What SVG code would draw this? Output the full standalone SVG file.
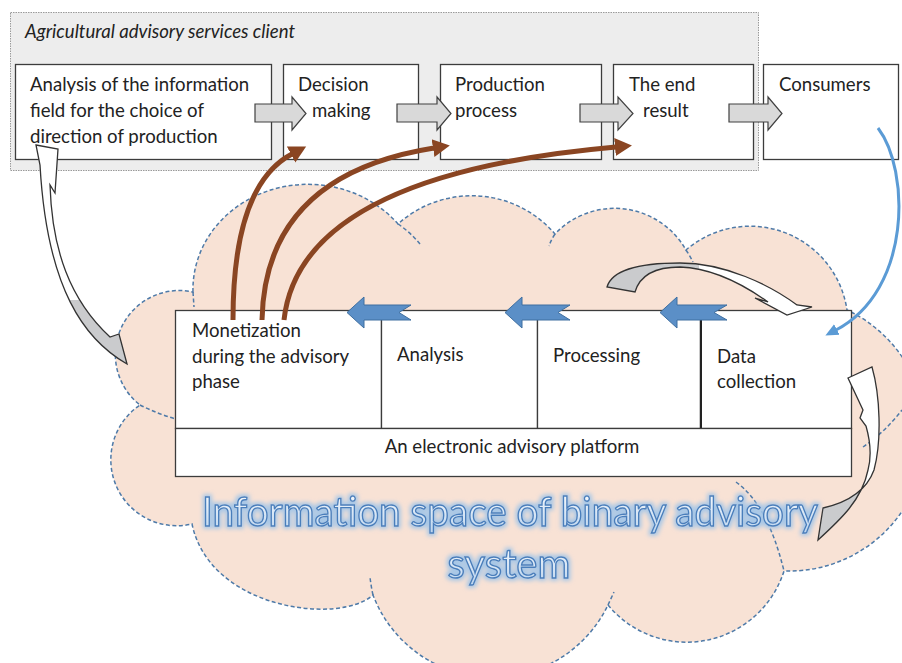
<svg xmlns="http://www.w3.org/2000/svg" width="902" height="663" viewBox="0 0 902 663">
<style>
  .t { font-family: Lato, "Liberation Sans", sans-serif; font-size: 18.6px; fill: #222; }
  .box { fill: #fff; stroke: #3c3c3c; stroke-width: 1.3; }
  .garrow { fill: #d9d9d9; stroke: #404040; stroke-width: 1.2; stroke-linejoin: miter; }
  .barrow { fill: #5b8fc7; stroke: #3f6fa0; stroke-width: 1; }
  .brown { fill: none; stroke: #8a4522; stroke-width: 5; }
  .cloudline { fill: none; stroke: #4e7aa8; stroke-width: 1.5; stroke-dasharray: 4 2.5; }
  .curv { stroke: #333; stroke-width: 1.3; stroke-linejoin: miter; }
  .big { font-family: Lato, "Liberation Sans", sans-serif; font-size: 40px; fill: url(#bigfill); stroke: #4a7ebb; stroke-width: 1.4; }
</style>
<defs>
  <marker id="mBrown" markerUnits="userSpaceOnUse" markerWidth="20" markerHeight="20" viewBox="0 -10 20 20" refX="1" refY="0" orient="auto">
    <path d="M0,-9 L17,0 L0,9 Z" fill="#8a4522"/>
  </marker>
  <marker id="mBlue" markerUnits="userSpaceOnUse" markerWidth="16" markerHeight="16" viewBox="0 -8 16 16" refX="1" refY="0" orient="auto">
    <path d="M0,-6 L13,0 L0,6 Z" fill="#5b9bd5"/>
  </marker>
  <linearGradient id="gLeft" gradientUnits="userSpaceOnUse" x1="0" y1="147" x2="0" y2="365">
    <stop offset="0.70" stop-color="#ffffff"/><stop offset="0.70" stop-color="#cacbcd"/>
  </linearGradient>
  <linearGradient id="gRight" gradientUnits="userSpaceOnUse" x1="0" y1="367" x2="0" y2="540">
    <stop offset="0.70" stop-color="#ffffff"/><stop offset="0.70" stop-color="#cacbcd"/>
  </linearGradient>
  <linearGradient id="gTop" gradientUnits="userSpaceOnUse" x1="607" y1="0" x2="812" y2="0">
    <stop offset="0.45" stop-color="#cacbcd"/><stop offset="0.45" stop-color="#ffffff"/>
  </linearGradient>
  <linearGradient id="bigfill" x1="0" y1="0" x2="0" y2="1">
    <stop offset="0" stop-color="#ffffff"/><stop offset="1" stop-color="#b9d3ee"/>
  </linearGradient>
  <filter id="glow" x="-5%" y="-30%" width="110%" height="160%">
    <feMorphology in="SourceAlpha" operator="dilate" radius="1.5" result="d"/>
    <feGaussianBlur in="d" stdDeviation="2" result="b"/>
    <feFlood flood-color="#9fc4e8" flood-opacity="0.9"/>
    <feComposite in2="b" operator="in" result="g"/>
    <feMerge><feMergeNode in="g"/><feMergeNode in="SourceGraphic"/></feMerge>
  </filter>
</defs>

<rect width="902" height="663" fill="#fff"/>

<!-- Cloud: information space -->
<g id="cloud">
  <path d="M193,292 A115,105 0 0 1 398,224 A110,110 0 0 1 555,234 A82,82 0 0 1 686,250 A98,98 0 0 1 847,310 A137,137 0 0 1 784,571 A102,102 0 0 1 608,605 A128,128 0 0 1 373,595 C340,625 210,610 192,524 A66,66 0 0 1 140,405 A64,64 0 0 1 193,292 Z" fill="#f8e2d5" stroke="#4e7aa8" stroke-width="1.5" stroke-dasharray="4 2.5"/>
  <path class="cloudline" d="M193,292 L194,307"/>
  <path class="cloudline" d="M398,224 Q410,232 420,244"/>
  <path class="cloudline" d="M555,234 Q551,240 549,246"/>
  <path class="cloudline" d="M686,250 Q690,256 693,262"/>
  <path class="cloudline" d="M140,405 Q158,414 176,419"/>
  <path class="cloudline" d="M373,595 Q371,586 370,577"/>
  <path class="cloudline" d="M736,482 Q768,505 784,571"/>
  <path class="cloudline" d="M863,447 Q885,432 902,410"/>
  <path class="cloudline" d="M608,605 L614,592"/>
</g>

<!-- Client container -->
<g id="client">
  <rect x="10.5" y="12.5" width="748" height="158" fill="#ededed" stroke="#9a9a9a" stroke-width="1" stroke-dasharray="1.5 1"/>
  <text class="t" x="25" y="38" font-style="italic" font-size="19.8">Agricultural advisory services client</text>
</g>

<g id="node-analysis-field">
  <rect class="box" x="15.5" y="64.5" width="256" height="95"/>
  <text class="t" x="30" y="91">Analysis of the information</text>
  <text class="t" x="30" y="117">field for the choice of</text>
  <text class="t" x="30" y="143">direction of production</text>
</g>
<g id="node-decision">
  <rect class="box" x="283.5" y="64.5" width="135" height="95"/>
  <text class="t" x="298" y="91">Decision</text>
  <text class="t" x="312" y="117">making</text>
</g>
<g id="node-production">
  <rect class="box" x="440.5" y="64.5" width="161" height="95"/>
  <text class="t" x="455" y="91">Production</text>
  <text class="t" x="455" y="117">process</text>
</g>
<g id="node-end-result">
  <rect class="box" x="613.5" y="64.5" width="140" height="95"/>
  <text class="t" x="629" y="91">The end</text>
  <text class="t" x="643" y="117">result</text>
</g>
<g id="node-consumers">
  <rect class="box" x="763.5" y="64.5" width="135" height="95"/>
  <text class="t" x="779" y="91">Consumers</text>
</g>

<!-- Platform -->
<g id="node-monetization">
  <rect class="box" x="175.5" y="310.5" width="206" height="118"/>
  <text class="t" x="192" y="337">Monetization</text>
  <text class="t" x="192" y="363">during the advisory</text>
  <text class="t" x="192" y="388">phase</text>
</g>
<g id="node-analysis">
  <rect class="box" x="381.5" y="310.5" width="156" height="118"/>
  <text class="t" x="397" y="361">Analysis</text>
</g>
<g id="node-processing">
  <rect class="box" x="537.5" y="310.5" width="163" height="118"/>
  <text class="t" x="553" y="362">Processing</text>
</g>
<g id="node-data-collection">
  <rect class="box" x="700.5" y="310.5" width="151" height="118"/>
  <line x1="701" y1="310" x2="701" y2="428" stroke="#222" stroke-width="2"/>
  <text class="t" x="717" y="363">Data</text>
  <text class="t" x="717" y="388">collection</text>
</g>
<g id="node-platform">
  <rect class="box" x="175.5" y="428.5" width="676" height="48"/>
  <text class="t" x="512" y="453" text-anchor="middle" font-size="17.8">An electronic advisory platform</text>
</g>

<!-- Connectors -->
<g id="connectors">
  <!-- grey block arrows between client boxes -->
  <polygon class="garrow" points="255,104 292,104 292,97 306,113.5 292,130 292,122 255,122"/>
  <polygon class="garrow" points="397,104 437,104 437,97 451,113.5 437,130 437,122 397,122"/>
  <polygon class="garrow" points="580,104 618,104 618,97 633,113.5 618,130 618,122 580,122"/>
  <polygon class="garrow" points="729,104 768,104 768,97 782,113.5 768,130 768,122 729,122"/>

  <!-- blue block arrows in platform -->
  <polygon class="barrow" points="347,312.5 364,297 364,305 411,305 399,312.5 411,320 364,320 364,328"/>
  <polygon class="barrow" points="505,312.5 522,297 522,305 570,305 558,312.5 570,320 522,320 522,328"/>
  <polygon class="barrow" points="660,312.5 677,297 677,305 727,305 714,312.5 727,320 677,320 677,328"/>

  <!-- brown monetization arrows -->
  <path class="brown" d="M233,320 Q233,185 292,154" marker-end="url(#mBrown)"/>
  <path class="brown" d="M262,320 Q265,175 434,148" marker-end="url(#mBrown)"/>
  <path class="brown" d="M284,320 Q300,175 616,147" marker-end="url(#mBrown)"/>

  <!-- blue curved connector from consumers -->
  <path d="M878,128 C910,170 912,290 836,330" fill="none" stroke="#5b9bd5" stroke-width="3" marker-end="url(#mBlue)"/>

  <!-- grey curved arrows -->
  <path class="curv" fill="url(#gLeft)" d="M36,145 L58,149 L55,193 L50,185 C52,250 70,300 110,337 L119,334 L127,364 C85,340 47,290 40,165 Z"/>
  <path class="curv" fill="url(#gTop)" d="M607,287 C612,270 640,263 680,263 C725,263 770,285 797,305 L812,307 L787,315 L755,298 L768,302 C740,282 710,268 680,267 C655,267 640,275 635,292 Z"/>
  <path class="curv" fill="url(#gRight)" d="M848,378 L872,367 C880,395 882,440 874,470 C866,492 845,503 823,508 L818,540 C840,520 862,500 868,470 C872,455 870,440 866,426 L860,418 L863,410 Z"/>
</g>

<!-- Big title -->
<g id="big-title" filter="url(#glow)">
  <text class="big" x="510" y="526" text-anchor="middle" textLength="616" lengthAdjust="spacingAndGlyphs">Information space of binary advisory</text>
  <text class="big" x="509" y="578" text-anchor="middle">system</text>
</g>
</svg>
